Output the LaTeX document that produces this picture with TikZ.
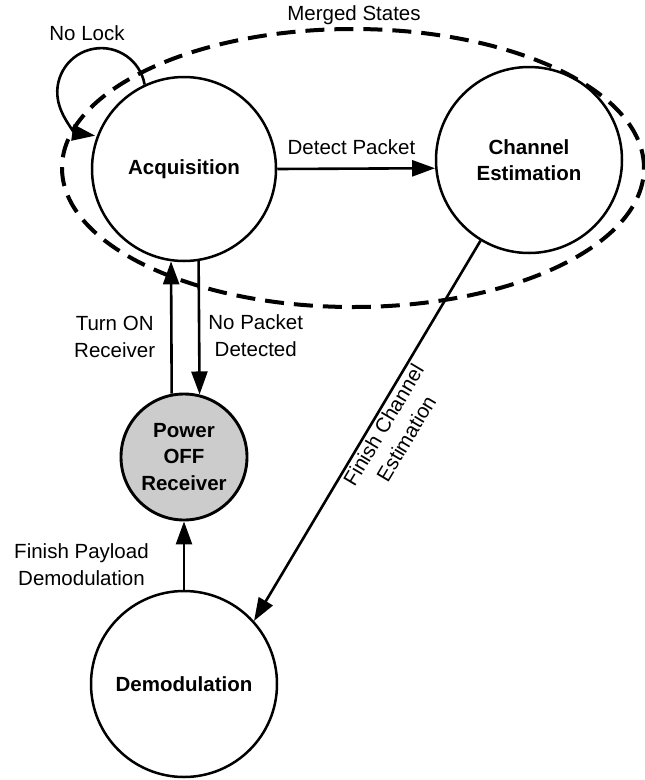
\documentclass[tikz,border=0pt]{standalone}
\usepackage{fontspec}
\setmainfont{Liberation Sans}
\usetikzlibrary{arrows.meta,shapes.geometric,positioning}
\begin{document}
\begin{tikzpicture}[x=1pt,y=1pt,
  every node/.style={font=\fontsize{20.5}{26.5}\selectfont},
  state/.style={circle, draw, line width=2.5pt, inner sep=2pt, align=center,
    font=\fontsize{20.5}{26.5}\selectfont\bfseries},
  trans/.style={line width=2.6pt, -{Triangle[length=23pt,width=16pt]}},
  lbl/.style={inner sep=0pt, align=center},
  merged/.style={ellipse, draw, line width=4pt, dash pattern=on 19pt off 10pt}]
\useasboundingbox (0,0) rectangle (645,-780);

% dashed outline grouping the merged states
\node[merged, minimum width=582pt, minimum height=278pt, inner sep=0pt] (mrg) at (353,-168) {};
\node[lbl] (mrglbl) at (354,-15) {Merged States};

% states
\node[state, minimum size=184pt] (acq) at (184,-169) {Acquisition};
\node[state, minimum size=186pt] (ce) at (529,-160) {Channel\\Estimation};
\node[state, minimum size=126pt, fill=black!20, line width=2.9pt] (pwr) at (184,-457) {Power\\OFF\\Receiver};
\node[state, minimum size=186pt] (dem) at (184,-684) {Demodulation};

% transitions
\draw[trans] (acq.115) arc[start angle=10, end angle=262, radius=44];
\node[lbl] (nolock) at (87,-33) {No Lock};
\draw[trans] (acq.east) -- node[lbl, pos=.47, above=13pt] {Detect Packet} (ce.185.5);
\draw[trans] (pwr.101.6) -- node[lbl, pos=.43, left=15pt] {Turn ON\\Receiver} (acq.262);
\draw[trans] (acq.279.3) -- node[lbl, pos=.56, right=8pt] {No Packet\\Detected} (pwr.76.6);
\draw[trans] (dem.90) -- node[lbl, pos=.37, left=34pt] {Finish Payload\\Demodulation} (pwr.270);
\draw[trans] (ce.239) -- node[lbl, pos=.47, sloped, below=2pt] {Finish Channel\\Estimation} (dem.42);
\end{tikzpicture}
\end{document}
